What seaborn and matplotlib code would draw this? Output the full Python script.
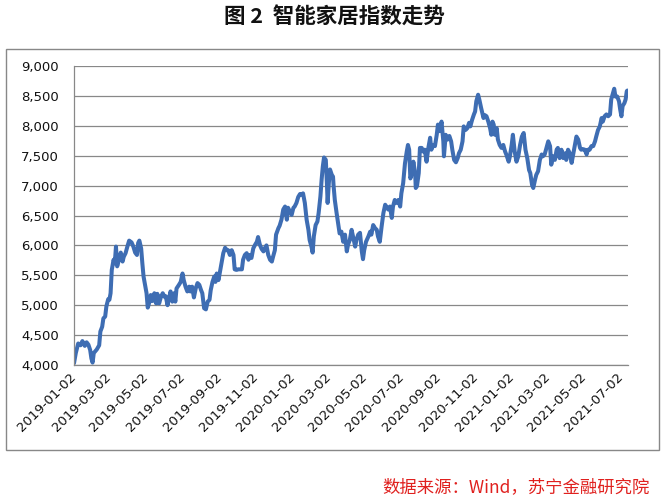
import numpy as np
import pandas as pd
import matplotlib
matplotlib.use("Agg")
import matplotlib.pyplot as plt
import matplotlib.dates as mdates
from matplotlib.patches import Rectangle
from matplotlib.ticker import FuncFormatter
import seaborn as sns

# smart home index (days counted from 2019-01-02)
start_date = "2019-01-02"
day_offset = [
    0, 3, 7, 11, 14, 18, 21, 24, 27, 29, 31, 33, 38, 42, 44, 47, 49, 52, 54, 57,
    59, 61, 63, 66, 68, 70, 72, 75, 78, 81, 83, 86, 89, 92, 96, 99, 102, 105, 107, 109,
    112, 114, 116, 118, 121, 123, 126, 128, 131, 134, 137, 139, 142, 145, 148, 151, 153, 156, 158, 161,
    164, 167, 169, 171, 175, 178, 181, 183, 186, 189, 192, 194, 197, 200, 203, 206, 209, 212, 214, 217,
    220, 223, 226, 228, 231, 234, 236, 238, 241, 243, 246, 249, 252, 255, 257, 260, 263, 266, 268, 271,
    274, 280, 282, 285, 288, 291, 293, 296, 299, 302, 305, 307, 310, 313, 316, 318, 321, 324, 327, 330,
    332, 335, 337, 341, 343, 346, 349, 352, 355, 357, 360, 363, 366, 368, 371, 374, 377, 380, 382, 385,
    388, 391, 393, 396, 398, 400, 403, 406, 408, 411, 413, 415, 417, 420, 422, 423, 425, 427, 430, 432,
    433, 435, 438, 441, 443, 446, 449, 452, 455, 457, 460, 463, 466, 469, 471, 474, 477, 480, 482, 484,
    487, 491, 494, 496, 499, 502, 505, 507, 510, 513, 516, 519, 521, 524, 527, 530, 532, 535, 538, 541,
    544, 546, 549, 552, 555, 557, 559, 561, 564, 566, 569, 570, 572, 575, 577, 580, 582, 585, 588, 591,
    594, 596, 599, 602, 605, 607, 610, 613, 616, 617, 620, 623, 626, 629, 631, 634, 637, 640, 642, 645,
    648, 650, 653, 656, 659, 661, 664, 667, 669, 671, 674, 676, 679, 683, 685, 688, 691, 694, 696, 698,
    700, 702, 705, 707, 710, 713, 716, 719, 721, 725, 727, 730, 732, 735, 738, 741, 744, 747, 750, 753,
    756, 759, 761, 764, 766, 769, 771, 774, 777, 780, 782, 785, 788, 791, 794, 796, 799, 802, 805, 807,
    810, 813, 816, 819, 821, 824, 827, 830, 832, 835, 838, 841, 844, 846, 849, 852, 855, 857, 860, 863,
    866, 869, 871, 874, 877, 880, 882, 885, 888, 891, 894, 896, 899, 901, 903, 906, 909, 911, 913, 915,
    918, 920, 922, 923,
]
index_value = [
    4030, 4200, 4360, 4330, 4400, 4320, 4380, 4340, 4250, 4110, 4040, 4200, 4260, 4330, 4560, 4640, 4780, 4810, 4980, 5100,
    5090, 5200, 5590, 5760, 5700, 5980, 5650, 5760, 5880, 5730, 5810, 5870, 5980, 6080, 6050, 5980, 5880, 5840, 6040, 6080,
    5950, 5700, 5480, 5370, 5200, 4960, 5060, 5170, 5070, 5200, 5030, 5190, 5030, 5140, 5200, 5140, 5150, 5000, 5090, 5230,
    5060, 5200, 5060, 5280, 5340, 5390, 5530, 5420, 5310, 5230, 5310, 5230, 5310, 5130, 5280, 5370, 5340, 5250, 5200, 4950,
    4930, 5060, 5090, 5250, 5390, 5480, 5390, 5530, 5420, 5530, 5700, 5870, 5960, 5920, 5920, 5840, 5920, 5840, 5600, 5590,
    5600, 5600, 5760, 5840, 5870, 5760, 5840, 5790, 5950, 6010, 6060, 6140, 6010, 5940, 5900, 5950, 6000, 5840, 5760, 5730,
    5810, 5920, 6180, 6290, 6330, 6430, 6600, 6650, 6430, 6630, 6570, 6510, 6630, 6650, 6710, 6810, 6860, 6850, 6870, 6710,
    6430, 6260, 6090, 5980, 5880, 6150, 6340, 6400, 6540, 6820, 7100, 7320, 7470, 7430, 6990, 6710, 7040, 7270, 7180, 7150,
    6990, 6760, 6540, 6340, 6200, 6230, 6060, 6180, 5900, 6010, 6090, 6260, 6120, 5980, 6090, 6180, 6210, 5900, 5770, 5920,
    6060, 6150, 6230, 6180, 6340, 6290, 6260, 6150, 6060, 6310, 6540, 6680, 6650, 6600, 6650, 6460, 6650, 6760, 6710, 6760,
    6650, 6870, 7040, 7370, 7570, 7680, 7600, 7120, 7210, 7400, 7210, 6960, 6990, 7210, 7630, 7630, 7570, 7600, 7400, 7630,
    7800, 7600, 7680, 7660, 7850, 8020, 7910, 8070, 7740, 7490, 7850, 7770, 7830, 7740, 7600, 7430, 7390, 7460, 7540, 7600,
    7740, 7990, 7930, 7960, 8050, 7990, 8100, 8190, 8240, 8410, 8520, 8440, 8300, 8130, 8180, 8160, 8070, 7960, 7850, 8070,
    8020, 7850, 7960, 7770, 7680, 7630, 7680, 7570, 7520, 7400, 7490, 7680, 7850, 7570, 7400, 7490, 7680, 7820, 7880, 7600,
    7460, 7260, 7210, 7010, 6960, 7100, 7180, 7240, 7430, 7520, 7490, 7520, 7630, 7740, 7660, 7350, 7490, 7430, 7600, 7630,
    7460, 7600, 7460, 7540, 7430, 7600, 7540, 7380, 7490, 7660, 7820, 7770, 7630, 7600, 7610, 7600, 7520, 7600, 7600, 7660,
    7660, 7740, 7820, 7930, 7990, 8130, 8070, 8160, 8190, 8160, 8190, 8440, 8550, 8620, 8490, 8490, 8410, 8270, 8160, 8330,
    8380, 8440, 8580, 8590,
]

tick_dates = ["2019-01-02", "2019-03-02", "2019-05-02", "2019-07-02", "2019-09-02", "2019-11-02",
              "2020-01-02", "2020-03-02", "2020-05-02", "2020-07-02", "2020-09-02", "2020-11-02",
              "2021-01-02", "2021-03-02", "2021-05-02", "2021-07-02"]
y_ticks = [4000, 4500, 5000, 5500, 6000, 6500, 7000, 7500, 8000, 8500, 9000]

df = pd.DataFrame({
    "date": pd.Timestamp(start_date) + pd.to_timedelta(day_offset, unit="D"),
    "value": index_value,
})

sns.set_theme(style="white")
plt.rcParams["font.family"] = ["DejaVu Sans", "Noto Sans CJK SC"]

grey = "#888888"
fig = plt.figure(figsize=(6.68, 5.0), dpi=100)
ax = fig.add_axes([74 / 668, 1 - 365 / 500, (628 - 74) / 668, (365 - 66) / 500])

sns.lineplot(data=df, x="date", y="value", ax=ax, color="#3E6DB3", linewidth=2.9)

ax.set_ylim(4000, 9000)
ax.set_xlim(pd.Timestamp("2019-01-02"), pd.Timestamp("2021-07-14"))
ax.set_yticks(y_ticks)
ax.yaxis.set_major_formatter(FuncFormatter(lambda v, p: f"{v:,.0f}"))
ax.set_xticks(pd.to_datetime(tick_dates))
ax.xaxis.set_major_formatter(mdates.DateFormatter("%Y-%m-%d"))
ax.grid(axis="y", color=grey, linewidth=0.9)
ax.set_axisbelow(True)
ax.set_xlabel("")
ax.set_ylabel("")

for side in ["top", "right"]:
    ax.spines[side].set_visible(False)
for side in ["left", "bottom"]:
    ax.spines[side].set_color(grey)
    ax.spines[side].set_linewidth(0.9)

ax.tick_params(axis="y", length=3, color=grey, width=0.9, pad=8, labelsize=9.5, labelcolor="#111111")
ax.tick_params(axis="x", length=3, color=grey, width=0.9, pad=4, labelsize=9.5, labelcolor="#111111")
for lab in ax.get_xticklabels():
    lab.set_rotation(45)
    lab.set_ha("right")
    lab.set_va("center")
    lab.set_rotation_mode("anchor")

# outer frame around the chart
fig.patches.append(Rectangle((6 / 668, 1 - 450 / 500), (659 - 6) / 668, (450 - 49) / 500,
                             transform=fig.transFigure, fill=False, edgecolor=grey, linewidth=1.0))

fig.text(0.5, 1 - 17 / 500, "图 2  智能家居指数走势", ha="center", va="center",
         fontsize=15.5, fontweight="bold", family=["Noto Sans CJK SC", "DejaVu Sans"], color="#111111")
fig.text(650 / 668, 1 - 487 / 500, "数据来源：Wind，苏宁金融研究院", ha="right", va="center",
         fontsize=12.5, style="italic", family=["Noto Sans CJK SC", "DejaVu Sans"], color="#E0201E")

fig.savefig("out.png", dpi=100)
